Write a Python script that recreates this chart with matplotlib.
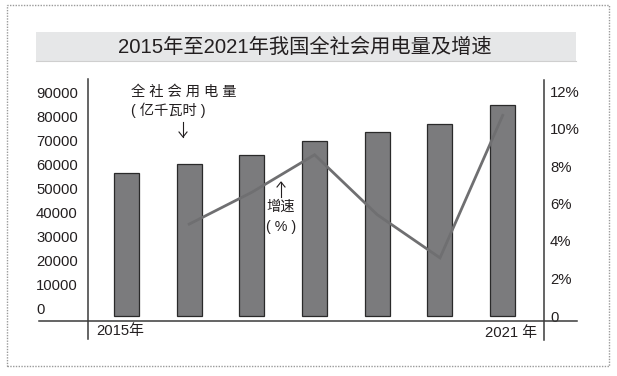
import matplotlib
matplotlib.use("Agg")
import matplotlib.pyplot as plt
from matplotlib.lines import Line2D
from matplotlib.patches import Rectangle

plt.rcParams['font.family'] = ['Liberation Sans', 'Noto Sans CJK SC', 'DejaVu Sans']

# ---- data ----
years = ['2015', '2016', '2017', '2018', '2019', '2020', '2021']
consumption = [56700, 60300, 63900, 69400, 73000, 76200, 83700]   # 亿千瓦时
growth_years = ['2016', '2017', '2018', '2019', '2020', '2021']
growth = [4.9, 6.6, 8.6, 5.4, 3.1, 10.7]                           # %
left_ticks = [0, 10000, 20000, 30000, 40000, 50000, 60000, 70000, 80000, 90000]
right_ticks = [0, 2, 4, 6, 8, 10, 12]
right_labels = ['0', '2%', '4%', '6%', '8%', '10%', '12%']
title = '2015年至2021年我国全社会用电量及增速'
xlabel_first = '2015年'
xlabel_last = '2021 年'

W, H = 617, 376
TXT = '#231f20'
fig = plt.figure(figsize=(W / 100, H / 100), dpi=100)


def fx(x):
    return x / W


def fy(y):
    return 1 - y / H


# dotted outer border
fig.add_artist(Rectangle((fx(7), fy(366)), fx(609) - fx(7), fy(5) - fy(366),
                         transform=fig.transFigure, fill=False,
                         edgecolor='#9a9a9a', lw=1.0, linestyle=(0, (1, 1))))
# title band
fig.add_artist(Rectangle((fx(36), fy(61)), fx(576) - fx(36), fy(32) - fy(61),
                         transform=fig.transFigure, facecolor='#e6e7e8',
                         edgecolor='none'))
fig.add_artist(Line2D([fx(36), fx(576)], [fy(61), fy(61)],
                      transform=fig.transFigure, color='#cfcfcf', lw=0.8))
fig.text(fx(305), fy(47), title, ha='center', va='center', fontsize=14.6,
         color=TXT)

# axes geometry (pixels)
L, R, T, B = 88.5, 544, 80, 321
rect = [fx(L), fy(B), fx(R) - fx(L), fy(T) - fy(B)]
ax = fig.add_axes(rect)          # left tick labels
axb = ax.twinx()                 # bars
axr = ax.twinx()                 # growth line + right labels
for a in (ax, axb, axr):
    a.patch.set_visible(False)
    for s in a.spines.values():
        s.set_visible(False)

x = list(range(len(years)))
xg = [years.index(y) for y in growth_years]
spacing = 62.7
c0 = 126.5
xl = (-(c0 - L) / spacing, (R - c0) / spacing)
for a in (ax, axb, axr):
    a.set_xlim(*xl)
    a.set_xticks([])

# bars: zero at pixel 316, 25.2 px per 10000
pxv = 10000 / 25.2
axb.set_ylim(-(B - 316) * pxv, (316 - T) * pxv)
axb.bar(x, consumption, width=25 / spacing, color='#7b7b7d',
        edgecolor='#2a2a2a', linewidth=0.9, zorder=2)
axb.set_yticks([])

# growth line: zero at pixel 316, 18.75 px per 1%
pxp = 1 / 18.75
axr.set_ylim(-(B - 316) * pxp, (316 - T) * pxp)
axr.plot(xg, growth, color='#6f6f71', lw=2.0, zorder=3, solid_joinstyle='miter')
axr.set_yticks(right_ticks)
axr.set_yticklabels(right_labels)
axr.tick_params(axis='y', length=0, pad=4.3, labelsize=10.7, labelcolor=TXT)

# left labels: 0 at pixel 308, 23.9 px per 10000
pxl = 10000 / 23.9
ax.set_ylim(-(B - 308) * pxl, (308 - T) * pxl)
ax.set_yticks(left_ticks)
ax.set_yticklabels([str(v) for v in left_ticks])
ax.tick_params(axis='y', length=0, pad=(L - 36) * 0.72, labelsize=10.7,
               labelcolor=TXT)
for lab in ax.get_yticklabels():
    lab.set_horizontalalignment('left')

# axis lines
axc = '#3a3a3a'
fig.add_artist(Line2D([fx(39), fx(577)], [fy(321), fy(321)],
                      transform=fig.transFigure, color=axc, lw=1.1))
fig.add_artist(Line2D([fx(L), fx(L)], [fy(79), fy(339)],
                      transform=fig.transFigure, color=axc, lw=1.1))
fig.add_artist(Line2D([fx(R), fx(R)], [fy(80), fy(340)],
                      transform=fig.transFigure, color=axc, lw=1.1))

# x labels
fig.text(fx(96), fy(331), xlabel_first, ha='left', va='center', fontsize=10.7,
         color=TXT)
fig.text(fx(537), fy(333), xlabel_last, ha='right', va='center', fontsize=10.7,
         color=TXT)

# annotations
fig.text(fx(131), fy(92), '全 社 会 用 电 量', ha='left', va='center',
         fontsize=10.3, color=TXT)
fig.text(fx(131), fy(110), '( 亿千瓦时 )', ha='left', va='center',
         fontsize=10.3, color=TXT)
fig.add_artist(plt.Line2D([fx(183), fx(183)], [fy(122), fy(137)],
                          transform=fig.transFigure, color=TXT, lw=0.8))
fig.add_artist(Line2D([fx(179), fx(183), fx(187)], [fy(132), fy(137), fy(132)],
                      transform=fig.transFigure, color=TXT, lw=0.8))

fig.add_artist(Line2D([fx(281), fx(281)], [fy(182), fy(197)],
                      transform=fig.transFigure, color=TXT, lw=0.8))
fig.add_artist(Line2D([fx(277), fx(281), fx(285)], [fy(187), fy(182), fy(187)],
                      transform=fig.transFigure, color=TXT, lw=0.8))
fig.text(fx(281), fy(207), '增速', ha='center', va='center', fontsize=10.3,
         color=TXT)
fig.text(fx(281), fy(227), '( % )', ha='center', va='center', fontsize=10.3,
         color=TXT)

fig.savefig('out.png', dpi=100)
